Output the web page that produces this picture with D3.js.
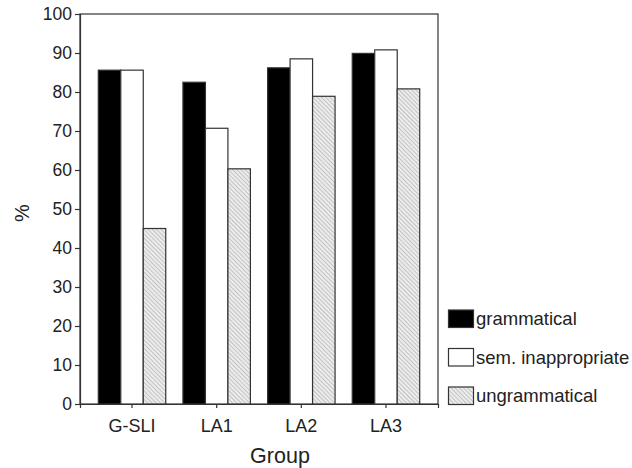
<!DOCTYPE html>
<html><head><meta charset="utf-8">
<script src="https://cdn.jsdelivr.net/npm/d3@7"></script>
<style>body{margin:0;background:#fff}svg{display:block}text{font-family:"Liberation Sans",Arial,sans-serif}</style>
</head><body>
<script>
const groups = ["G-SLI","LA1","LA2","LA3"];
const seriesNames = ["grammatical","sem. inappropriate","ungrammatical"];
const grammatical = [85.6, 82.5, 86.2, 89.9];
const semInappropriate = [85.6, 70.7, 88.5, 90.8];
const ungrammatical = [45.0, 60.3, 78.9, 80.8];
const yTicks = [0,10,20,30,40,50,60,70,80,90,100];

const W=632,H=468;
const svg=d3.select("body").append("svg").attr("width",W).attr("height",H);
const defs=svg.append("defs");
const pat=defs.append("pattern").attr("id","hatch").attr("patternUnits","userSpaceOnUse")
  .attr("width",3).attr("height",3).attr("patternTransform","rotate(45)");
pat.append("rect").attr("width",3).attr("height",3).attr("fill","#ececec");
pat.append("line").attr("x1",0).attr("y1",0).attr("x2",3).attr("y2",0).attr("stroke","#9a9a9a").attr("stroke-width",1);

const L=80,R=438,T=14,B=404;
const x=d3.scaleBand().domain(groups).range([L,R]).paddingInner(0.203).paddingOuter(0.216);
const xs=d3.scaleBand().domain(seriesNames).range([0,x.bandwidth()]);
const y=d3.scaleLinear().domain([0,100]).range([B,T]);
const fills=["#000","#fff","url(#hatch)"];
const data=[grammatical,semInappropriate,ungrammatical];

svg.append("rect").attr("x",L).attr("y",T).attr("width",R-L).attr("height",B-T)
  .attr("fill","none").attr("stroke","#333").attr("stroke-width",1.2);

groups.forEach((g,i)=>{
  seriesNames.forEach((s,j)=>{
    const v=data[j][i];
    svg.append("rect").attr("x",x(g)+xs(s)).attr("y",y(v)).attr("width",xs.bandwidth())
      .attr("height",y(0)-y(v)).attr("fill",fills[j]).attr("stroke","#333").attr("stroke-width",1.2);
  });
});

const ya=svg.append("g").attr("transform",`translate(${L},0)`)
  .call(d3.axisLeft(y).tickValues(yTicks).tickSize(5).tickPadding(3));
ya.select(".domain").attr("stroke","#333").attr("stroke-width",1.2);
ya.selectAll(".tick line").attr("stroke","#333").attr("stroke-width",1.2);
ya.selectAll("text").attr("font-size",17.5).attr("fill","#222");

const xa=svg.append("g").attr("transform",`translate(0,${B})`)
  .call(d3.axisBottom(x).tickSize(4).tickPadding(11));
xa.select(".domain").attr("stroke","#333").attr("stroke-width",1.2);
xa.selectAll(".tick line").attr("stroke","#333").attr("stroke-width",1.2);
xa.selectAll("text").attr("font-size",18).attr("fill","#222");

svg.append("text").attr("x",280).attr("y",463).attr("text-anchor","middle")
  .attr("font-size",21.5).attr("fill","#222").text("Group");
svg.append("text").attr("transform","translate(29,213) rotate(-90)").attr("text-anchor","middle")
  .attr("font-size",20).attr("fill","#222").text("%");

const lg=svg.append("g");
seriesNames.forEach((s,j)=>{
  const yy=310+j*38.5;
  lg.append("rect").attr("x",448.5).attr("y",yy).attr("width",25).attr("height",17.5)
    .attr("fill",fills[j]).attr("stroke","#333").attr("stroke-width",1.2);
  lg.append("text").attr("x",476).attr("y",yy+15).attr("font-size",18.5).attr("fill","#222").text(s);
});
</script>
</body></html>
